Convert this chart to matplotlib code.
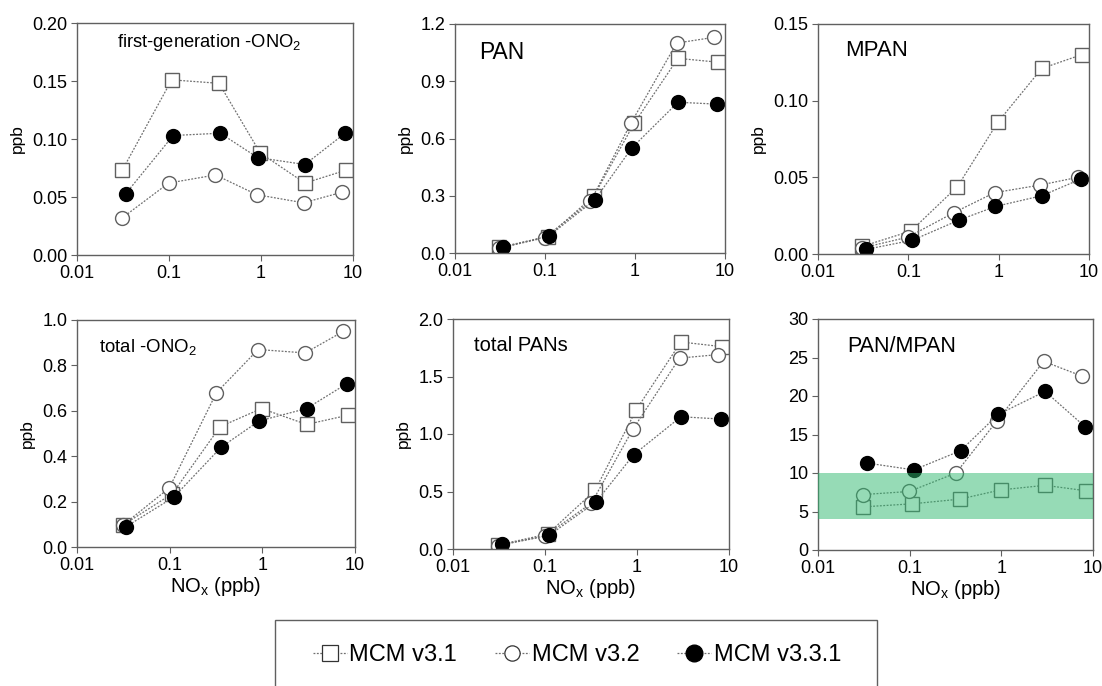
import matplotlib
matplotlib.use("Agg")
import matplotlib.pyplot as plt
from matplotlib.patches import Rectangle
from matplotlib.ticker import FixedLocator, NullLocator

plt.rcParams['font.family'] = ['Liberation Sans', 'DejaVu Sans']
plt.rcParams['mathtext.default'] = 'regular'

# NOx (ppb) for each model version (slightly offset in the original figure)
nox_v31 = [0.031, 0.107, 0.35, 0.98, 3.0, 8.3]
nox_v32 = [0.031, 0.099, 0.32, 0.90, 2.9, 7.5]
nox_v331 = [0.034, 0.111, 0.36, 0.92, 3.0, 8.2]

panel_titles = ["first-generation -ONO$_2$", "PAN", "MPAN",
                "total -ONO$_2$", "total PANs", "PAN/MPAN"]

v31 = [
    [0.073, 0.151, 0.148, 0.088, 0.062, 0.073],
    [0.03, 0.085, 0.30, 0.68, 1.02, 1.00],
    [0.005, 0.015, 0.044, 0.086, 0.121, 0.130],
    [0.095, 0.235, 0.53, 0.61, 0.54, 0.58],
    [0.035, 0.13, 0.51, 1.21, 1.80, 1.76],
    [5.6, 6.0, 6.6, 7.8, 8.4, 7.7],
]
v32 = [
    [0.032, 0.062, 0.069, 0.052, 0.045, 0.054],
    [0.025, 0.08, 0.27, 0.68, 1.10, 1.13],
    [0.004, 0.011, 0.027, 0.040, 0.045, 0.050],
    [0.095, 0.26, 0.68, 0.87, 0.855, 0.95],
    [0.03, 0.11, 0.40, 1.04, 1.66, 1.69],
    [7.2, 7.6, 10.0, 16.8, 24.5, 22.6],
]
v331 = [
    [0.053, 0.103, 0.105, 0.084, 0.078, 0.105],
    [0.03, 0.09, 0.28, 0.55, 0.79, 0.78],
    [0.003, 0.009, 0.022, 0.031, 0.038, 0.049],
    [0.09, 0.22, 0.44, 0.555, 0.61, 0.72],
    [0.04, 0.12, 0.41, 0.82, 1.15, 1.13],
    [11.3, 10.4, 12.9, 17.6, 20.6, 16.0],
]

y_ticks = [
    [0.00, 0.05, 0.10, 0.15, 0.20],
    [0.0, 0.3, 0.6, 0.9, 1.2],
    [0.00, 0.05, 0.10, 0.15],
    [0.0, 0.2, 0.4, 0.6, 0.8, 1.0],
    [0.0, 0.5, 1.0, 1.5, 2.0],
    [0, 5, 10, 15, 20, 25, 30],
]
y_fmt = ["%.2f", "%.1f", "%.2f", "%.1f", "%.1f", "%d"]

# observed PAN/MPAN range (green band)
band = [4, 10]

W, H = 1102, 686
# axes boxes in pixels: left, right, top, bottom
boxes = [(77, 353, 23, 255), (455, 725, 24, 253), (818, 1089, 24, 254),
         (77, 355, 320, 547), (453, 729, 319, 549), (818, 1093, 319, 550)]
# title placement (axes fraction) and size
title_x = [0.145, 0.09, 0.10, 0.08, 0.076, 0.105]
title_y = [0.96, 0.925, 0.93, 0.925, 0.925, 0.925]
title_fs = [13.2, 16.5, 16, 13.4, 14.5, 15.5]

fig = plt.figure(figsize=(W / 100, H / 100), dpi=100)
grey = "#606060"
line_kw = dict(color="#707070", lw=0.9, ls=(0, (1.5, 1.2)))

for i, (l, r, t, b) in enumerate(boxes):
    ax = fig.add_axes([l / W, 1 - b / H, (r - l) / W, (b - t) / H])
    ax.plot(nox_v31, v31[i], marker="s", ms=10, mfc="white", mec=grey, mew=1.0, **line_kw)
    ax.plot(nox_v32, v32[i], marker="o", ms=10, mfc="white", mec=grey, mew=1.0, **line_kw)
    ax.plot(nox_v331, v331[i], marker="o", ms=10, mfc="black", mec="black", **line_kw)
    if i == 5:
        ax.axhspan(band[0], band[1], color="#2eb86e", alpha=0.5, lw=0, zorder=5)
    ax.set_xscale("log")
    ax.set_xlim(0.01, 10)
    ax.xaxis.set_major_locator(FixedLocator([0.01, 0.1, 1, 10]))
    ax.xaxis.set_minor_locator(NullLocator())
    ax.set_xticklabels(["0.01", "0.1", "1", "10"])
    ax.set_ylim(y_ticks[i][0], y_ticks[i][-1])
    ax.set_yticks(y_ticks[i])
    ax.set_yticklabels([y_fmt[i] % v for v in y_ticks[i]])
    ax.tick_params(direction="out", length=4, color=grey, labelsize=13, pad=3)
    for s in ax.spines.values():
        s.set_color(grey)
        s.set_linewidth(1.0)
    if i < 5:
        ax.set_ylabel("ppb", fontsize=12.5, labelpad=5)
    if i >= 3:
        ax.set_xlabel("NO$_x$ (ppb)", fontsize=14.5, labelpad=1)
    ax.text(title_x[i], title_y[i], panel_titles[i], transform=ax.transAxes,
            fontsize=title_fs[i], va="top", ha="left")

# legend box at the bottom
fig.patches.append(Rectangle((275 / W, -0.05), 602 / W, (H - 620) / H + 0.05,
                             transform=fig.transFigure, fill=False,
                             edgecolor=grey, lw=1.0))
handles = [
    plt.Line2D([], [], marker="s", ms=11, mfc="white", mec="#333333", mew=0.9, **line_kw),
    plt.Line2D([], [], marker="o", ms=11, mfc="white", mec="#333333", mew=0.9, **line_kw),
    plt.Line2D([], [], marker="o", ms=12, mfc="black", mec="black", **line_kw),
]
fig.legend(handles, ["MCM v3.1", "MCM v3.2", "MCM v3.3.1"], loc="center",
           bbox_to_anchor=(577 / W, 1 - 655 / H), ncol=3, frameon=False,
           fontsize=17, handlelength=1.45, handletextpad=0.1, columnspacing=1.6)

fig.savefig("out.png", dpi=100)
